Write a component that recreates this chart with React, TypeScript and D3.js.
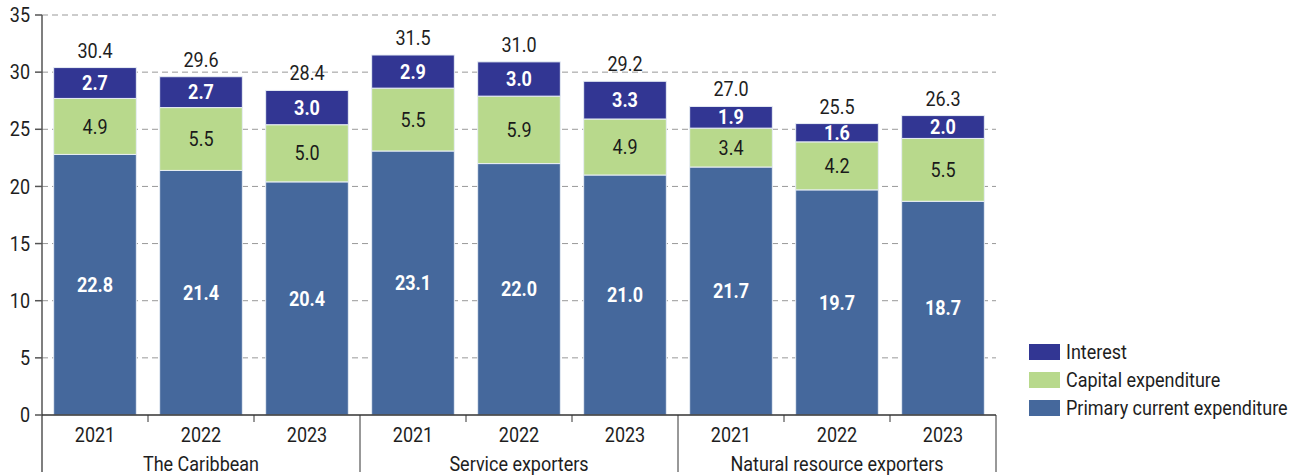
import React from "react";
import * as d3 from "d3";

const groups = ["The Caribbean", "Service exporters", "Natural resource exporters"];
const years = ["2021", "2022", "2023"];
const primaryCurrent = [22.8, 21.4, 20.4, 23.1, 22.0, 21.0, 21.7, 19.7, 18.7];
const capitalExp = [4.9, 5.5, 5.0, 5.5, 5.9, 4.9, 3.4, 4.2, 5.5];
const interest = [2.7, 2.7, 3.0, 2.9, 3.0, 3.3, 1.9, 1.6, 2.0];
const totals = [30.4, 29.6, 28.4, 31.5, 31.0, 29.2, 27.0, 25.5, 26.3];
const yTicks = [0, 5, 10, 15, 20, 25, 30, 35];

const seriesNames = ["Primary current expenditure", "Capital expenditure", "Interest"];
const colors = ["#45689c", "#b8d98c", "#323693"];
const labelStyles = [
  { fill: "#ffffff", weight: 700 },
  { fill: "#1a1a1a", weight: 400 },
  { fill: "#ffffff", weight: 700 },
];

const W = 1297;
const H = 476;
const FONT = "Roboto, 'Noto Sans', sans-serif";
const SX = 0.9;
const FS = 20;

function T(props: {
  x: number;
  y: number;
  children: React.ReactNode;
  anchor?: "start" | "middle" | "end";
  fill?: string;
  weight?: number;
  dy?: string;
}) {
  return (
    <text
      transform={`translate(${props.x},${props.y}) scale(${SX},1)`}
      textAnchor={props.anchor || "middle"}
      fontSize={FS}
      fill={props.fill || "#1e1e1e"}
      fontWeight={props.weight || 400}
      dy={props.dy}
    >
      {props.children}
    </text>
  );
}

export default function App() {
  const left = 42;
  const right = 996;
  const top = 15;
  const bottom = 415;

  const keys = groups.flatMap((g) => years.map((y) => `${g}|${y}`));
  const x = d3.scaleBand<string>().domain(keys).range([left, right]).paddingInner(0.22).paddingOuter(0.11);
  const xg = d3.scaleBand<string>().domain(groups).range([left, right]);
  const y = d3.scaleLinear().domain([0, 35]).range([bottom, top]);

  const rows = keys.map((k, i) => ({ key: k, p: primaryCurrent[i], c: capitalExp[i], n: interest[i] }));
  const stack = d3.stack<any>().keys(["p", "c", "n"]);
  const series = stack(rows);

  const step = x.step();

  return (
    <svg width={W} height={H} style={{ position: "absolute", left: 0, top: 0 }} fontFamily={FONT}>
      <rect width={W} height={H} fill="#fff" />
      {yTicks.filter((t) => t > 0).map((t) => (
        <line key={t} x1={left} x2={right} y1={y(t)} y2={y(t)} stroke="#999" strokeDasharray="6,4" strokeWidth={1} />
      ))}
      {series.map((s, si) =>
        s.map((d, i) => {
          const bx = x(keys[i])!;
          const y0 = y(d[0]);
          const y1 = y(d[1]);
          const val = [primaryCurrent, capitalExp, interest][si][i];
          return (
            <g key={`${si}-${i}`}>
              <rect x={bx} y={y1} width={x.bandwidth()} height={y0 - y1} fill={colors[si]} stroke="#e8eef5" strokeWidth={1} />
              <T
                x={bx + x.bandwidth() / 2}
                y={(y0 + y1) / 2}
                dy="0.36em"
                fill={labelStyles[si].fill}
                weight={labelStyles[si].weight}
              >
                {val.toFixed(1)}
              </T>
            </g>
          );
        })
      )}
      {totals.map((t, i) => (
        <T key={i} x={x(keys[i])! + x.bandwidth() / 2} y={y(interest[i] + capitalExp[i] + primaryCurrent[i]) - 10}>
          {t.toFixed(1)}
        </T>
      ))}
      {/* y axis */}
      <line x1={left} x2={left} y1={top} y2={472} stroke="#555" strokeWidth={1.5} />
      {yTicks.map((t) => (
        <g key={t}>
          <line x1={left - 7} x2={left} y1={y(t)} y2={y(t)} stroke="#555" strokeWidth={1.5} />
          <T x={left - 12} y={y(t)} dy="0.36em" anchor="end">
            {t}
          </T>
        </g>
      ))}
      {/* x axis */}
      <line x1={left} x2={right} y1={bottom} y2={bottom} stroke="#333" strokeWidth={1.5} />
      {keys.map((k, i) => {
        const cx = x(k)! + x.bandwidth() / 2;
        const bx = x(k)! - (step - x.bandwidth()) / 2;
        return (
          <g key={k}>
            {i % 3 !== 0 && <line x1={bx} x2={bx} y1={bottom} y2={bottom + 7} stroke="#333" strokeWidth={1} />}
            <T x={cx} y={442}>
              {years[i % 3]}
            </T>
          </g>
        );
      })}
      {groups.map((g) => (
        <g key={g}>
          <line x1={xg(g)! + xg.bandwidth()} x2={xg(g)! + xg.bandwidth()} y1={bottom} y2={472} stroke="#333" strokeWidth={1} />
          <T x={xg(g)! + xg.bandwidth() / 2} y={471}>
            {g}
          </T>
        </g>
      ))}
      {/* legend */}
      {[2, 1, 0].map((si, j) => (
        <g key={si}>
          <rect x={1029} y={344 + j * 28} width={31} height={16} fill={colors[si]} />
          <T x={1066} y={352 + j * 28} dy="0.36em" anchor="start">
            {seriesNames[si]}
          </T>
        </g>
      ))}
    </svg>
  );
}
